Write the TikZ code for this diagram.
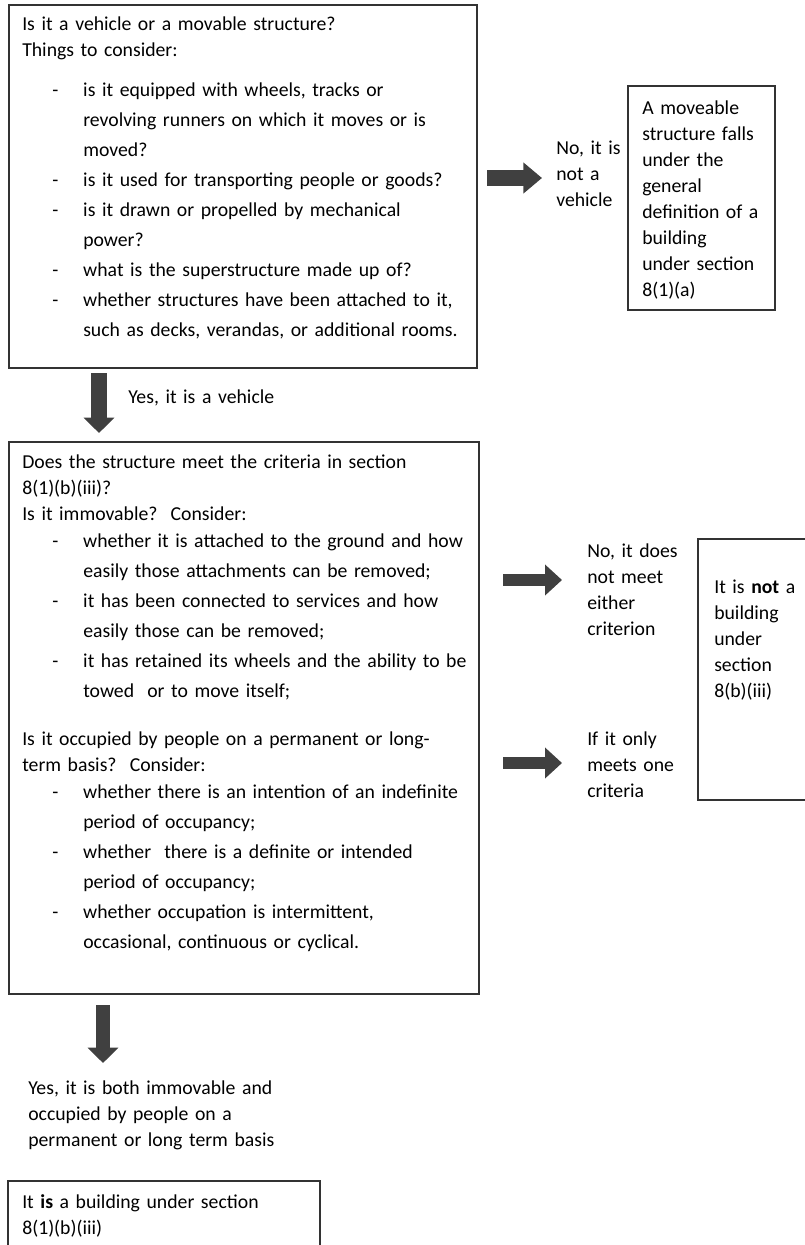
\documentclass[tikz,border=0pt]{standalone}
\usepackage{fontspec}
\setmainfont{Carlito}
\usetikzlibrary{arrows.meta,fit}

\newcommand{\dashline}[1]{\makebox[23.25pt][l]{-}#1}
\newcommand{\contline}[1]{\hspace*{23.25pt}#1}

\tikzset{
  box/.style={draw=black!80, line width=1pt, inner sep=0pt},
  txt/.style={anchor=base west, inner sep=0pt, align=left, text width=#1,
    font=\fontsize{14.8}{19.5}\selectfont},
  listtxt/.style={anchor=base west, inner sep=0pt, align=left, text width=#1,
    font=\fontsize{14.8}{22.5}\selectfont},
  bigarrow/.style={draw=black!75, line cap=butt, -{Triangle[length=#1,width=22.5pt]}}
}

\begin{document}
\begin{tikzpicture}[x=0.75pt, y=-0.75pt]
  \useasboundingbox (0,0) rectangle (805,1245);
  \clip (0,0) rectangle (805,1245);

  % Is it a vehicle?
  \node[box, fit={(9,5) (477,368)}] (vehicle) {};
  \node[txt=340pt] (vehhead) at (22,31) {Is it a vehicle or a movable structure?\\Things to consider:};
  \node[listtxt=340pt] (vehlist) at (52,97) {%
    \dashline{is it equipped with wheels, tracks or}\\
    \contline{revolving runners on which it moves or is}\\
    \contline{moved?}\\
    \dashline{is it used for transporting people or goods?}\\
    \dashline{is it drawn or propelled by mechanical}\\
    \contline{power?}\\
    \dashline{what is the superstructure made up of?}\\
    \dashline{whether structures have been attached to it,}\\
    \contline{such as decks, verandas, or additional rooms.}};

  % Not a vehicle
  \node[txt=60pt] (notveh) at (556,155) {No, it is\\not a\\vehicle};
  \node[box, fit={(628,86) (775,310)}] (moveable) {};
  \node[txt=110pt] (movtxt) at (642,115) {A moveable\\structure falls\\under the\\general\\definition of a\\building\\under section\\8(1)(a)};
  \coordinate (a1s) at (487,178);
  \coordinate (a1e) at (542,178);
  \draw[bigarrow=14pt, line width=11.25pt] (a1s) -- (a1e);

  % Yes, a vehicle
  \coordinate (d1s) at (99,373);
  \coordinate (d1e) at (99,433);
  \draw[bigarrow=11.5pt, line width=12.5pt] (d1s) -- (d1e);
  \node[txt=200pt] (isveh) at (128,403) {Yes, it is a vehicle};

  % Criteria in 8(1)(b)(iii)
  \node[box, fit={(9,442) (479,994)}] (criteria) {};
  \node[txt=340pt] (crithead) at (22,468) {Does the structure meet the criteria in section\\8(1)(b)(iii)?\\Is it immovable?\ \ Consider:};
  \node[listtxt=340pt] (critlist) at (52,547) {%
    \dashline{whether it is attached to the ground and how}\\
    \contline{easily those attachments can be removed;}\\
    \dashline{it has been connected to services and how}\\
    \contline{easily those can be removed;}\\
    \dashline{it has retained its wheels and the ability to be}\\
    \contline{towed\ \ or to move itself;}};
  \node[txt=340pt] (occhead) at (22,745) {Is it occupied by people on a permanent or long-\\term basis?\ \ Consider:};
  \node[listtxt=340pt] (occlist) at (52,798) {%
    \dashline{whether there is an intention of an indefinite}\\
    \contline{period of occupancy;}\\
    \dashline{whether\ \ there is a definite or intended}\\
    \contline{period of occupancy;}\\
    \dashline{whether occupation is intermittent,}\\
    \contline{occasional, continuous or cyclical.}};

  % Not a building
  \node[txt=80pt] (neither) at (587,557) {No, it does\\not meet\\either\\criterion};
  \node[txt=80pt] (onlyone) at (587,745) {If it only\\meets one\\criteria};
  \node[box, fit={(698,539) (830,800)}] (notbuild) {};
  \node[txt=80pt] (notbtxt) at (714,593) {It is \textbf{not} a\\building\\under\\section\\8(b)(iii)};
  \coordinate (a2s) at (503,580);
  \coordinate (a2e) at (562,580);
  \coordinate (a3s) at (503,763);
  \coordinate (a3e) at (562,763);
  \draw[bigarrow=12.75pt, line width=9pt] (a2s) -- (a2e);
  \draw[bigarrow=12.75pt, line width=9pt] (a3s) -- (a3e);

  % Yes, a building
  \coordinate (d2s) at (103,1005);
  \coordinate (d2e) at (103,1063);
  \draw[bigarrow=11.5pt, line width=10pt] (d2s) -- (d2e);
  \node[txt=260pt] (both) at (28,1094) {Yes, it is both immovable and\\occupied by people on a\\permanent or long term basis};
  \node[box, fit={(8,1181) (320,1270)}] (building) {};
  \node[txt=240pt] (buildtxt) at (22,1208) {It \textbf{is} a building under section\\8(1)(b)(iii)};
\end{tikzpicture}
\end{document}
